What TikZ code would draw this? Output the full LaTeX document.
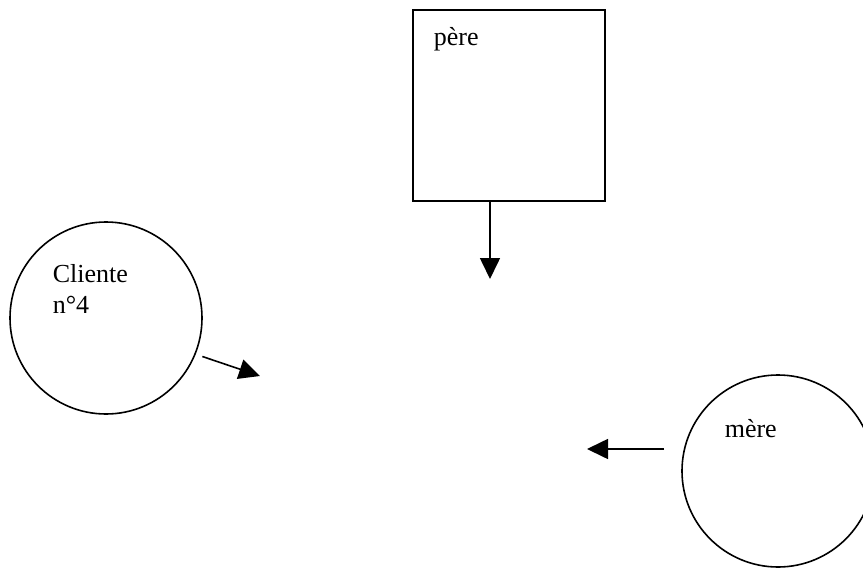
\documentclass[tikz,border=0pt]{standalone}
\usepackage{fontspec}
\setmainfont{Liberation Serif}
\usetikzlibrary{arrows.meta}

\begin{document}
\begin{tikzpicture}[x=1pt,y=-1pt,line width=1.6pt,
  lbl/.style={anchor=north west,inner sep=0pt,align=left,font=\fontsize{26}{31}\selectfont},
  fleche/.style={-{Triangle[length=21pt,width=20pt]}}]
\useasboundingbox (0,0) rectangle (863,568);
\node[draw,rectangle,minimum width=192pt,minimum height=191pt] (pere) at (509,105.5) {};
\node[lbl] (pere-txt) at (433,27) {père};
\coordinate (pere-fin) at (490,279);
\draw[fleche] (pere.south -| pere-fin) -- (pere-fin);
%
\node[draw,circle,minimum size=192pt] (cliente) at (106,318) {};
\node[lbl] (cliente-txt) at (52,264) {Cliente\\n°4};
\coordinate (cliente-fin) at (260,376);
\draw[fleche,shorten <=7pt] (cliente.-22) -- (cliente-fin);
%
\node[draw,circle,minimum size=192pt] (mere) at (778,471) {};
\node[lbl] (mere-txt) at (724,419) {mère};
\coordinate (mere-fin) at (587,449);
\draw[fleche,shorten <=17pt] (mere.west |- mere-fin) -- (mere-fin);
\end{tikzpicture}
\end{document}
